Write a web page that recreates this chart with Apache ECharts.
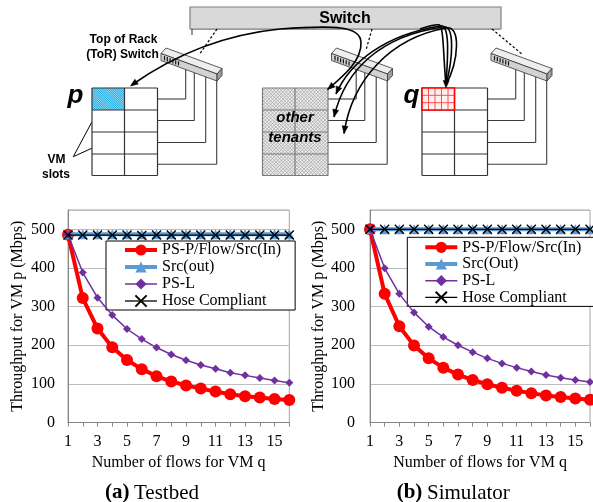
<!DOCTYPE html>
<html><head><meta charset="utf-8">
<script src="https://cdn.jsdelivr.net/npm/echarts@6/dist/echarts.min.js"></script>
<style>html,body{margin:0;padding:0;background:#fff}#c{width:593px;height:502px}</style>
</head><body><div id="c"></div>
<script>
// ---------------- data ----------------
const flows = [1,2,3,4,5,6,7,8,9,10,11,12,13,14,15,16];
const xTickLabels = ['1','3','5','7','9','11','13','15'];
const yTickLabels = [0,100,200,300,400,500];
const namesA = ['PS-P/Flow/Src(In)','Src(out)','PS-L','Hose Compliant'];
const namesB = ['PS-P/Flow/Src(In)','Src(Out)','PS-L','Hose Compliant'];
const testbedPSP    = [486,322,243,195,162,138,120,106,96,88,80,73,68,65,61,58];
const testbedSrcOut = [487,487,487,487,487,487,487,487,487,487,487,487,487,487,487,487];
const testbedPSL    = [486,388,323,278,242,216,194,176,161,149,139,129,122,115,109,103];
const testbedHose   = [485,485,485,485,485,484,485,485,485,485,485,485,485,485,485,485];
const simPSP    = [500,333,249,199,166,142,124,110,99,90,82,76,70,66,62,59];
const simSrcOut = [500,500,500,500,500,500,500,500,500,500,500,500,500,500,500,500];
const simPSL    = [500,399,333,285,248,221,200,182,166,153,142,132,123,116,110,105];
const simHose   = [500,500,500,500,500,500,500,500,500,500,500,500,500,500,500,500];

const SERIF = '"Liberation Serif", "Times New Roman", serif';
const SANS = '"Liberation Sans", Arial, sans-serif';
const pairs = vals => flows.map((f,i)=>[f, vals[i]]);

// ---------------- diagram (graphic) ----------------
const G = [];
function line(x1,y1,x2,y2,stroke,lw,dash){ G.push({type:'line', silent:true, shape:{x1,y1,x2,y2}, style:{stroke, lineWidth:lw, lineDash:dash||null}}); }
function rect(x,y,w,h,fill,stroke,lw){ G.push({type:'rect', silent:true, shape:{x,y,width:w,height:h}, style:{fill, stroke, lineWidth:lw||0}}); }
function poly(points,fill,stroke,lw){ G.push({type:'polygon', silent:true, shape:{points}, style:{fill, stroke, lineWidth:lw||0}}); }
function txt(x,y,t,font,align){ G.push({type:'text', silent:true, x, y, style:{text:t, font, fill:'#000', align:align||'center', verticalAlign:'middle'}}); }
function bez(s){ G.push({type:'bezierCurve', silent:true, shape:{x1:s[0],y1:s[1],cpx1:s[2],cpy1:s[3],cpx2:s[4],cpy2:s[5],x2:s[6],y2:s[7]}, style:{stroke:'#000', lineWidth:1.6, fill:'none'}}); }
function arrowHead(tx,ty,fx,fy){
  const dx=tx-fx, dy=ty-fy, L=Math.hypot(dx,dy), ux=dx/L, uy=dy/L, len=7.5, hw=3;
  const bx=tx-ux*len, by=ty-uy*len;
  poly([[tx,ty],[bx-uy*hw,by+ux*hw],[bx+uy*hw,by-ux*hw]],'#000','#000',0.5);
}
function hatch(x,y,w,h,sp,dir,color,lw){
  if(dir>0){
    for(let c=y-(x+w); c<=y+h-x; c+=sp){
      const xa=Math.max(x,y-c), xb=Math.min(x+w,y+h-c);
      if(xb>xa) line(xa,xa+c,xb,xb+c,color,lw);
    }
  } else {
    for(let c=x+y; c<=x+w+y+h; c+=sp){
      const xa=Math.max(x,c-(y+h)), xb=Math.min(x+w,c-y);
      if(xb>xa) line(xa,c-xa,xb,c-xb,color,lw);
    }
  }
}

// main switch
rect(190,7,311,22,'#d9d9d9','#7f7f7f',1.2);
line(191,29.5,500,29.5,'#9a9a9a',1);
line(192,29,192,35,'#333',1);
txt(345,18.5,'Switch','bold 16px '+SANS);

// dotted links switch -> ToR
line(217,29,199,55,'#000',1.2,[2.5,2]);
line(372,29,366,50,'#000',1.2,[2.5,2]);
line(492,29,523,55,'#000',1.2,[2.5,2]);

const offs = [0,170.5,330];
const torBot = x => 60.5 + (x-161)*0.366;
const wireX = [185.7,194.3,205.7,216.7];
const wireY = [99,120.5,142.5,164.3];

offs.forEach((ox,ri)=>{
  const x0=92+ox, xs=[x0,x0+32.5,x0+65.5], ys=[88,110,132,154,175.5];
  for(let i=0;i<4;i++){
    const vx=wireX[i]+ox;
    line(xs[2],wireY[i],vx,wireY[i],'#3c3c3c',1.1);
    line(vx,wireY[i],vx,torBot(wireX[i]),'#3c3c3c',1.1);
  }
  let cellStroke='#333';
  if(ri===1){
    rect(xs[0],ys[0],65.5,87.5,'#ececec',null,0);
    hatch(xs[0],ys[0],65.5,87.5,3.5,1,'#9a9a9a',0.6);
    hatch(xs[0],ys[0],65.5,87.5,3.5,-1,'#9a9a9a',0.6);
    cellStroke='#7a7a7a';
  } else {
    rect(xs[0],ys[0],65.5,87.5,'#fff',null,0);
  }
  if(ri===0){
    rect(xs[0],ys[0],32.5,22,'#8fdaf8',null,0);
    hatch(xs[0],ys[0],32.5,22,2.2,1,'#0aa0dc',0.9);
  }
  for(const yy of ys) line(xs[0],yy,xs[2],yy,cellStroke,1.2);
  for(const xx of xs) line(xx,ys[0],xx,ys[4],cellStroke,1.2);
  if(ri===2){
    const cx=xs[0], cy=ys[0], cw=32.5, ch=22;
    rect(cx,cy,cw,ch,'#fff0f0',null,0);
    for(let k=1;k<5;k++) line(cx+k*cw/5,cy,cx+k*cw/5,cy+ch,'#ff5050',1);
    for(let k=1;k<3;k++) line(cx,cy+k*ch/3,cx+cw,cy+k*ch/3,'#ff5050',1);
    rect(cx,cy,cw,ch,'none','#ff0000',1.6);
  }
  const P = pts => pts.map(p=>[p[0]+ox,p[1]]);
  poly(P([[161,53.5],[166,48],[222,68.5],[217,74]]),'#eeeeee','#333',0.8);
  poly(P([[161,53.5],[217,74],[217,81],[161,60.5]]),'#d2d2d2','#333',0.8);
  poly(P([[217,74],[222,68.5],[222,75.5],[217,81]]),'#9c9c9c','#333',0.8);
  for(let k=0;k<6;k++){
    const px=164.5+k*2.8, t=53.5+(px-161)*0.366+1.3;
    line(px+ox,t,px+ox,t+4.3,'#111',1.2);
  }
});

// curves
const pSegs = [
  [131.7,85, 170,58, 220,35, 280,29],
  [280,29, 335,25, 360,26, 361,42],
  [361,42, 362,60, 345,75, 327.5,89.5]
];
pSegs.forEach(bez);
arrowHead(130.5,86,170,58);
arrowHead(327.5,89.5,345,75);
const qCurves = [
  [[336,94, 350,62, 385,35, 440,26],[440,26, 450,23, 448,55, 446,85]],
  [[334,117, 345,70, 380,36, 443,27],[443,27, 455,24, 453,58, 446,85]],
  [[344,133.5, 352,80, 390,38, 446,28],[446,28, 461,25, 459,60, 446,85]],
  [[420,29, 430,26, 436,24, 438,25],[438,25, 444,22, 443,55, 446,85]]
];
qCurves.forEach((c,i)=>{
  bez(c[0]); bez(c[1]);
  if(i<3) arrowHead(c[0][0],c[0][1],c[0][2],c[0][3]);
});
arrowHead(446,88,446.5,70);

// labels
txt(123.5,40,'Top of Rack','bold 12px '+SANS);
txt(122.5,55,'(ToR) Switch','bold 12px '+SANS);
txt(75.5,95.5,'p','bold italic 26px '+SANS);
txt(411.5,95.5,'q','bold italic 26px '+SANS);
txt(56.5,160,'VM','bold 12px '+SANS);
txt(56,175,'slots','bold 12px '+SANS);
line(73.3,156.7,91.7,122.3,'#000',1);
line(73.3,156.7,91.7,148.3,'#000',1);
txt(295,118.3,'other','bold italic 15px '+SANS);
txt(295,138.3,'tenants','bold italic 15px '+SANS);

// captions
txt(105,493,'(a)','bold 21px '+SERIF,'left');
txt(134,493,'Testbed','21px '+SERIF,'left');
txt(396.7,493,'(b)','bold 21px '+SERIF,'left');
txt(427,493,'Simulator','21px '+SERIF,'left');

// ---------------- charts ----------------
const xSymbol = 'path://M0,0L10,10M10,0L0,10';
function mkX(gi){
  return {gridIndex:gi, type:'value', min:1, max:16, interval:1,
    name:'Number of flows for VM q', nameLocation:'middle', nameGap:32,
    nameTextStyle:{fontFamily:SERIF, fontSize:16, color:'#000'},
    axisLine:{show:true, onZero:false, lineStyle:{color:'#868686', width:1}},
    axisTick:{show:true, length:4, lineStyle:{color:'#868686'}},
    axisLabel:{formatter:v=>xTickLabels.includes(String(v))?String(v):'', fontFamily:SERIF, fontSize:16, color:'#000', margin:11},
    splitLine:{show:false}};
}
function mkY(gi,margin,gap){
  return {gridIndex:gi, type:'value', min:0, max:550, interval:100,
    name:'Throughput for VM p (Mbps)', nameLocation:'middle', nameGap:gap,
    nameTextStyle:{fontFamily:SERIF, fontSize:16, color:'#000'},
    axisLine:{show:true, lineStyle:{color:'#868686', width:1}},
    axisTick:{show:false},
    axisLabel:{formatter:v=>yTickLabels.includes(v)?String(v):'', fontFamily:SERIF, fontSize:16, color:'#000', margin},
    splitLine:{show:true, lineStyle:{color:'#bdbdbd', width:1}}};
}
function mkSeries(gi,names,psp,src,psl,hose){
  const base = {type:'line', xAxisIndex:gi, yAxisIndex:gi, clip:false, animation:false, emphasis:{disabled:true}};
  return [
    Object.assign({}, base, {name:names[0], data:pairs(psp), symbol:'circle', symbolSize:12, itemStyle:{color:'#ff0000'}, lineStyle:{color:'#ff0000', width:4}, z:2}),
    Object.assign({}, base, {name:names[1], data:pairs(src), symbol:'triangle', symbolSize:10, itemStyle:{color:'#5b9bd5'}, lineStyle:{color:'#5b9bd5', width:4}, z:3}),
    Object.assign({}, base, {name:names[2], data:pairs(psl), symbol:'diamond', symbolSize:8, itemStyle:{color:'#7030a0'}, lineStyle:{color:'#7030a0', width:1.5}, z:4}),
    Object.assign({}, base, {name:names[3], data:pairs(hose), symbol:xSymbol, symbolSize:9, itemStyle:{color:'#000', borderColor:'#000', borderWidth:1.4}, lineStyle:{color:'#000', width:1.3}, z:5})
  ];
}
const legendWidths = [4,4,1.5,1.3];
function mkLegend(names,left,top,pad,gap){
  return {data:names.map((n,i)=>({name:n, lineStyle:{width:legendWidths[i]}})),
    orient:'vertical', left, top, padding:pad, itemWidth:32, itemHeight:14, itemGap:gap,
    backgroundColor:'#fff', borderColor:'#000', borderWidth:1, selectedMode:false,
    textStyle:{fontFamily:SERIF, fontSize:16, color:'#000', lineHeight:14}};
}

const option = {
  animation:false,
  backgroundColor:'#fff',
  grid:[
    {left:68, right:303.7, top:210, bottom:79.5, show:true, borderColor:'#a6a6a6', borderWidth:1, containLabel:false},
    {left:370, right:2, top:210, bottom:79.5, show:true, borderColor:'#a6a6a6', borderWidth:1, containLabel:false}
  ],
  xAxis:[mkX(0), mkX(1)],
  yAxis:[mkY(0,13,42), mkY(1,15,43)],
  legend:[
    mkLegend(namesA,106,241,[1,14,1,17],1),
    mkLegend(namesB,407.3,237.3,[2,13,1,16],0.7)
  ],
  series:[].concat(
    mkSeries(0,namesA,testbedPSP,testbedSrcOut,testbedPSL,testbedHose),
    mkSeries(1,namesB,simPSP,simSrcOut,simPSL,simHose)
  ),
  graphic:{elements:G}
};
const chart = echarts.init(document.getElementById('c'), null, {renderer:'canvas'});
chart.setOption(option);
</script>
</body></html>
